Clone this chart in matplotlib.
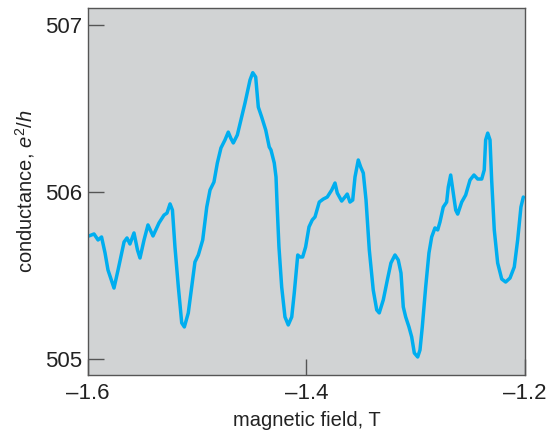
import numpy as np
import matplotlib
matplotlib.use("Agg")
import matplotlib.pyplot as plt

# magnetic field (T) and conductance (e^2/h)
field = [-1.5991, -1.5945, -1.5908, -1.5876, -1.5844, -1.5817, -1.5762, -1.5725,
         -1.5670, -1.5643, -1.5616, -1.5579, -1.5547, -1.5524, -1.5487, -1.5451,
         -1.5405, -1.5350, -1.5304, -1.5277, -1.5249, -1.5227, -1.5204, -1.5173,
         -1.5142, -1.5118, -1.5082, -1.5051, -1.5021, -1.4990, -1.4950, -1.4913,
         -1.4883, -1.4847, -1.4816, -1.4783, -1.4746, -1.4716, -1.4694, -1.4670,
         -1.4633, -1.4609, -1.4563, -1.4517, -1.4492, -1.4465, -1.4441, -1.4410,
         -1.4373, -1.4341, -1.4325, -1.4295, -1.4279, -1.4267, -1.4252, -1.4227,
         -1.4197, -1.4167, -1.4135, -1.4112, -1.4080, -1.4059, -1.4035, -1.4008,
         -1.3977, -1.3947, -1.3922, -1.3883, -1.3846, -1.3810, -1.3769, -1.3739,
         -1.3718, -1.3678, -1.3648, -1.3627, -1.3602, -1.3577, -1.3556, -1.3526,
         -1.3504, -1.3480, -1.3455, -1.3425, -1.3389, -1.3357, -1.3334, -1.3297,
         -1.3260, -1.3227, -1.3190, -1.3160, -1.3135, -1.3114, -1.3092, -1.3062,
         -1.3037, -1.3013, -1.2982, -1.2961, -1.2940, -1.2909, -1.2879, -1.2854,
         -1.2824, -1.2799, -1.2778, -1.2748, -1.2717, -1.2702, -1.2680, -1.2656,
         -1.2634, -1.2616, -1.2579, -1.2543, -1.2503, -1.2467, -1.2433, -1.2396,
         -1.2373, -1.2360, -1.2341, -1.2320, -1.2305, -1.2281, -1.2250, -1.2213,
         -1.2177, -1.2137, -1.2098, -1.2067, -1.2037, -1.2015]
conductance = [505.735, 505.747, 505.711, 505.729, 505.633, 505.531, 505.423, 505.531,
               505.699, 505.723, 505.687, 505.753, 505.651, 505.603, 505.711, 505.801,
               505.735, 505.813, 505.860, 505.872, 505.927, 505.890, 505.669, 505.429,
               505.214, 505.190, 505.274, 505.429, 505.579, 505.621, 505.711, 505.908,
               506.010, 506.058, 506.172, 506.262, 506.310, 506.357, 506.322, 506.292,
               506.340, 506.405, 506.531, 506.669, 506.713, 506.687, 506.507, 506.447,
               506.369, 506.268, 506.250, 506.172, 506.088, 505.890, 505.669, 505.429,
               505.250, 505.202, 505.250, 505.393, 505.621, 505.609, 505.609, 505.669,
               505.789, 505.831, 505.849, 505.938, 505.956, 505.968, 506.010, 506.052,
               505.992, 505.944, 505.968, 505.986, 505.938, 505.950, 506.088, 506.190,
               506.148, 506.112, 505.950, 505.651, 505.411, 505.292, 505.274, 505.352,
               505.471, 505.573, 505.621, 505.591, 505.513, 505.310, 505.250, 505.190,
               505.130, 505.034, 505.010, 505.052, 505.190, 505.429, 505.633, 505.729,
               505.783, 505.771, 505.819, 505.908, 505.938, 506.028, 506.100, 505.992,
               505.890, 505.866, 505.938, 505.980, 506.070, 506.100, 506.076, 506.076,
               506.130, 506.310, 506.351, 506.310, 506.070, 505.771, 505.573, 505.477,
               505.459, 505.483, 505.549, 505.711, 505.908, 505.968]

xticks = [-1.6, -1.4, -1.2]
xtick_labels = ["\u20131.6", "\u20131.4", "\u20131.2"]
yticks = [505, 506, 507]

plt.rcParams['font.family'] = ['Liberation Sans', 'DejaVu Sans']
plt.rcParams['mathtext.fontset'] = 'custom'
plt.rcParams['mathtext.rm'] = 'Liberation Sans'
plt.rcParams['mathtext.it'] = 'Liberation Sans:italic'

fig = plt.figure(figsize=(5.5, 4.36), dpi=100)
ax = fig.add_axes([0.16, 0.141, 0.7945, 0.8405])
ax.set_facecolor('#d1d3d4')

ax.plot(field, conductance, color='#00aeef', lw=2.5,
        solid_joinstyle='round', solid_capstyle='round')

ax.set_xlim(-1.6, -1.2)
ax.set_ylim(504.905, 507.1)
ax.set_xticks(xticks)
ax.set_xticklabels(xtick_labels)
ax.set_yticks(yticks)

for s in ax.spines.values():
    s.set_color('#555555')
    s.set_linewidth(1.0)

ax.tick_params(direction='in', length=11.5, width=1.0, color='#555555',
               labelsize=16, labelcolor='#222222')
ax.tick_params(axis='x', pad=6)
ax.tick_params(axis='y', pad=4)

ax.set_xlabel('magnetic field, T', fontsize=14.5, color='#222222', labelpad=5)
ax.set_ylabel('conductance, $e^2/h$', fontsize=14.5, color='#222222', labelpad=6)

fig.savefig('out.png', dpi=100)
